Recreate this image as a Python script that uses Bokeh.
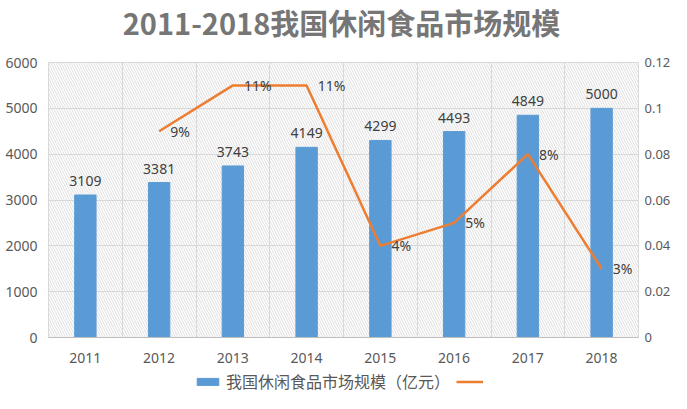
from bokeh.plotting import figure
from bokeh.models import (Range1d, LinearAxis, FixedTicker, NumeralTickFormatter,
                          ColumnDataSource, Legend, LegendItem, BoxAnnotation, Label)
from bokeh.embed import file_html
from bokeh.resources import INLINE

years = ["2011", "2012", "2013", "2014", "2015", "2016", "2017", "2018"]
market = [3109, 3381, 3743, 4149, 4299, 4493, 4849, 5000]
growth_years = ["2012", "2013", "2014", "2015", "2016", "2017", "2018"]
growth = [0.09, 0.11, 0.11, 0.04, 0.05, 0.08, 0.03]
growth_labels = ["9%", "11%", "11%", "4%", "5%", "8%", "3%"]
left_ticks = [0, 1000, 2000, 3000, 4000, 5000, 6000]
right_ticks = [0, 0.02, 0.04, 0.06, 0.08, 0.1, 0.12]
title_text = "2011-2018我国休闲食品市场规模"
legend_label = "我国休闲食品市场规模（亿元）"

FONT = "Noto Sans"
CJK = "Noto Sans CJK SC"
BLUE = "#5B9BD5"
ORANGE = "#ED7D31"
GRID = "#d9d9d9"
TXT = "#595959"

# layout in pixels inside the 671x393 figure (frame covers the whole figure)
W, H = 671, 393
PL_LEFT, PL_RIGHT = 48, 638      # plot-area extent horizontally
PL_TOP, PL_BOT = 62, 337         # value-axis extent (max .. 0)
TITLE_CX, TITLE_CY = 341, 21
LEG_X, LEG_Y = 194, 0

N = len(years)
LMAX, RMAX = left_ticks[-1], right_ticks[-1]
xpp = N / (PL_RIGHT - PL_LEFT)
upp = LMAX / (PL_BOT - PL_TOP)
rpp = RMAX / (PL_BOT - PL_TOP)

xpos = [i + 0.5 for i in range(N)]
gx = [years.index(y) + 0.5 for y in growth_years]

bar_src = ColumnDataSource(dict(x=xpos, v=market, lab=[str(m) for m in market]))
line_src = ColumnDataSource(dict(x=gx, v=growth, lab=growth_labels))

p = figure(width=W, height=H, output_backend="svg", toolbar_location=None,
           title=None,
           x_range=Range1d(-PL_LEFT * xpp, N + (W - PL_RIGHT) * xpp),
           y_range=Range1d(-(H - PL_BOT) * upp, LMAX + PL_TOP * upp),
           min_border_left=0, min_border_right=0, min_border_top=0,
           min_border_bottom=0)
p.outline_line_color = None
p.background_fill_color = "white"
p.border_fill_color = "white"
p.extra_y_ranges = {"r": Range1d(-(H - PL_BOT) * rpp, RMAX + PL_TOP * rpp)}

# hatched plot-area background
p.add_layout(BoxAnnotation(left=0, right=N, bottom=0, top=LMAX, fill_alpha=0,
                           line_color=None, hatch_pattern="\\", hatch_color="#d6d6d6",
                           hatch_scale=5, hatch_weight=0.8, level="underlay"))

bars = p.vbar(x="x", top="v", width=0.29, source=bar_src, color=BLUE)
p.text(x="x", y="v", text="lab", source=bar_src, text_align="center",
       text_baseline="bottom", y_offset=-9, text_font_size="14px",
       text_color="#404040", text_font={"value": FONT})
line = p.line(x="x", y="v", source=line_src, y_range_name="r",
              line_color=ORANGE, line_width=2.5)
p.text(x="x", y="v", text="lab", source=line_src, y_range_name="r",
       text_align="left", text_baseline="middle", x_offset=11,
       text_font_size="14px", text_color="#404040", text_font={"value": FONT})

# title
p.add_layout(Label(x=(TITLE_CX - PL_LEFT) * xpp, y=LMAX + (PL_TOP - TITLE_CY) * upp,
                   text=title_text, text_align="center", text_baseline="middle",
                   text_font=CJK, text_font_size="29px", text_font_style="bold",
                   text_color="#767676"))

# axes
def style(ax, standoff, size="14px"):
    ax.major_tick_line_color = None
    ax.minor_tick_line_color = None
    ax.major_tick_out = 0
    ax.major_tick_in = 0
    ax.major_label_standoff = standoff
    ax.major_label_text_font = FONT
    ax.major_label_text_font_size = size
    ax.major_label_text_color = TXT

xa = p.xaxis[0]
xa.fixed_location = 0
xa.bounds = (0, N)
xa.ticker = FixedTicker(ticks=xpos)
xa.major_label_overrides = {x: y for x, y in zip(xpos, years)}
xa.axis_line_color = "#bfbfbf"
style(xa, 15)

ya = p.yaxis[0]
ya.fixed_location = 0
ya.bounds = (0, LMAX)
ya.ticker = FixedTicker(ticks=left_ticks)
ya.axis_line_color = None
style(ya, 11)

ra = LinearAxis(y_range_name="r", ticker=FixedTicker(ticks=right_ticks),
                formatter=NumeralTickFormatter(format="0.[00]"), bounds=(0, RMAX),
                fixed_location=N)
ra.axis_line_color = None
style(ra, 6, "13px")
p.add_layout(ra, "right")

p.xgrid[0].ticker = FixedTicker(ticks=list(range(N + 1)))
p.xgrid[0].cross_bounds = (0, LMAX)
p.xgrid[0].grid_line_color = GRID
p.ygrid[0].ticker = FixedTicker(ticks=left_ticks)
p.ygrid[0].cross_bounds = (0, N)
p.ygrid[0].grid_line_color = GRID

legend = Legend(items=[LegendItem(label=legend_label, renderers=[bars]),
                       LegendItem(label=" ", renderers=[line])],
                orientation="horizontal", location=(LEG_X, LEG_Y),
                border_line_color=None, background_fill_alpha=0,
                label_text_font=CJK, label_text_font_size="16px",
                label_text_color=TXT, glyph_width=27, glyph_height=9,
                label_standoff=5, spacing=6, padding=0, margin=0)
p.add_layout(legend, "center")

open("out.html", "w").write(file_html(p, INLINE))
